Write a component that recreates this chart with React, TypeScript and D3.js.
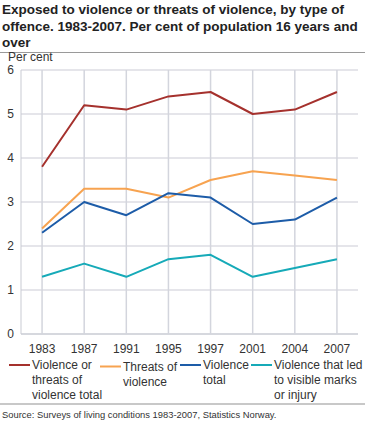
import React from 'react';
import * as d3 from 'd3';

const years = ['1983', '1987', '1991', '1995', '1997', '2001', '2004', '2007'];

const violenceOrThreatsTotal = [3.8, 5.2, 5.1, 5.4, 5.5, 5.0, 5.1, 5.5];
const threatsOfViolence = [2.4, 3.3, 3.3, 3.1, 3.5, 3.7, 3.6, 3.5];
const violenceTotal = [2.3, 3.0, 2.7, 3.2, 3.1, 2.5, 2.6, 3.1];
const visibleMarksOrInjury = [1.3, 1.6, 1.3, 1.7, 1.8, 1.3, 1.5, 1.7];

const yTicks = [0, 1, 2, 3, 4, 5, 6];

const seriesNames = [
  ['Violence or', 'threats of', 'violence total'],
  ['Threats of', 'violence'],
  ['Violence', 'total'],
  ['Violence that led', 'to visible marks', 'or injury']
];
const seriesColors = ['#a5312d', '#f7a350', '#1d5ca8', '#16aab8'];
const seriesValues = [violenceOrThreatsTotal, threatsOfViolence, violenceTotal, visibleMarksOrInjury];

const titleLines = [
  'Exposed to violence or threats of violence, by type of',
  'offence. 1983-2007. Per cent of population 16 years and',
  'over'
];

const W = 365;
const H = 423;
const font = 'Arial, "Liberation Sans", Helvetica, sans-serif';

const App: React.FC = () => {
  const plot = { left: 21, right: 358, top: 70, bottom: 334 };

  const x = d3.scaleBand<string>()
    .domain(years)
    .range([plot.left, plot.right]);

  const y = d3.scaleLinear()
    .domain([0, 6])
    .range([plot.bottom, plot.top]);

  const line = d3.line<number>()
    .x((_, i) => x(years[i])! + x.bandwidth() / 2)
    .y(d => y(d));

  // legend item positions (swatch start)
  const legendX = [9, 100, 180, 251];
  const legendDy = [0, 1.5, 0, 0];

  return (
    <svg width={W} height={H} style={{ position: 'absolute', left: 0, top: 0 }} fontFamily={font}>
      <rect width={W} height={H} fill="#ffffff" />

      {titleLines.map((t, i) => (
        <text key={t} x={2} y={14 + i * 16.5} fontSize={13.5} fontWeight="bold" fill="#222">
          {t}
        </text>
      ))}
      <line x1={0} x2={W} y1={52.5} y2={52.5} stroke="#9a9a9a" strokeWidth={1} />

      <text x={8} y={61} fontSize={12} fill="#333">Per cent</text>

      {/* horizontal grid */}
      {yTicks.map(t => (
        <g key={t}>
          <line
            x1={plot.left}
            x2={plot.right}
            y1={y(t)}
            y2={y(t)}
            stroke={t === 0 ? '#c9cbd3' : '#dcdde3'}
            strokeWidth={1.5}
          />
          <text x={14} y={y(t) + 4} fontSize={12} textAnchor="end" fill="#333">{t}</text>
        </g>
      ))}

      {/* vertical grid */}
      <line x1={plot.left} x2={plot.left} y1={plot.top} y2={plot.bottom} stroke="#c9cbd3" strokeWidth={1} />
      {years.map(yr => {
        const cx = x(yr)! + x.bandwidth() / 2;
        return (
          <g key={yr}>
            <line x1={cx} x2={cx} y1={plot.top} y2={plot.bottom} stroke="#d3d5dd" strokeWidth={1.5} />
            <text x={cx} y={353} fontSize={12} textAnchor="middle" fill="#333">{yr}</text>
          </g>
        );
      })}

      {/* series lines */}
      {seriesValues.map((vals, i) => (
        <path
          key={i}
          d={line(vals) ?? ''}
          fill="none"
          stroke={seriesColors[i]}
          strokeWidth={2}
          strokeLinejoin="round"
        />
      ))}

      {/* legend */}
      {seriesNames.map((lines, i) => (
        <g key={i} transform={`translate(${legendX[i]},${legendDy[i]})`}>
          <line x1={0} x2={21} y1={365} y2={365} stroke={seriesColors[i]} strokeWidth={2} />
          {lines.map((l, j) => (
            <text key={l} x={23} y={369 + j * 15} fontSize={12} fill="#333">{l}</text>
          ))}
        </g>
      ))}

      <line x1={0} x2={W} y1={404} y2={404} stroke="#c8c8c8" strokeWidth={2} />
      <text x={2} y={418} fontSize={9.4} fill="#333">
        Source: Surveys of living conditions 1983-2007, Statistics Norway.
      </text>
    </svg>
  );
};

export default App;
